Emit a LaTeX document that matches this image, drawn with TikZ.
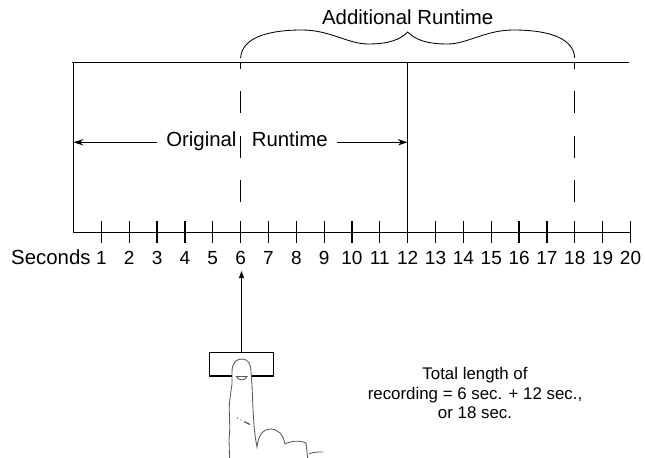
\documentclass[tikz,border=0pt]{standalone}
\usepackage{fontspec}
\setmainfont{Liberation Sans}
\usetikzlibrary{positioning,arrows.meta}

\begin{document}
\begin{tikzpicture}[x=0.025cm, y=-0.025cm, line width=0.9pt,
    lbl/.style={font=\fontsize{14.5}{17}\selectfont, inner sep=0pt},
    num/.style={font=\fontsize{13.5}{15}\selectfont, inner sep=0pt},
    cut/.style={dash pattern=on 15.6pt off 16pt, dash phase=11pt},
    skin/.style={draw=black!65, line width=0.6pt}]
    \useasboundingbox (0,0) rectangle (646,458);

    % Frame and time axis
    \coordinate (tl) at (72,62.3);
    \coordinate (tr) at (629,62.3);
    \coordinate (t0) at (73.5,232.7);
    \coordinate (ax) at (631,232.7);
    \draw (tl) -- (tr);
    \draw (t0 |- tl) -- (t0) -- (ax);

    % Ticks and seconds
    \foreach \n in {1,...,20} {
        \coordinate (t\n) at ({73.5+27.85*\n},232.7);
        \draw (t\n) ++(0,-11.5) -- ++(0,22);
        \node[num, anchor=base] (l\n) at ({73.5+27.85*\n},265) {\n};
    }
    \node[lbl, anchor=base east] (sec) at ([xshift=-3pt]l1.base west) {Seconds};

    % Runtime markers
    \draw (t12 |- tl) -- (t12);
    \draw[cut] (t6 |- tl) -- (t6);
    \draw[cut] (t18 |- tl) -- (t18);

    % Original runtime
    \node[lbl, anchor=base, inner xsep=6pt] (orig) at (247,147) {Original\hspace{0.75em}Runtime};
    \coordinate (ol) at (73.5,142.3);
    \coordinate (or) at (t12 |- ol);
    \draw[-{Stealth[length=7pt,width=4.5pt]}] (orig.west |- ol) -- (ol);
    \draw[-{Stealth[length=7pt,width=4.5pt]}] (orig.east |- ol) -- (or);

    % Additional runtime
    \node[lbl, anchor=base] (add) at (407.7,25) {Additional Runtime};
    \draw[line width=0.6pt] (240.6,58) .. controls (242,36) and (272,30) .. (302,30)
        .. controls (330,30) and (348,44) .. (368,44)
        .. controls (388,44) and (400,40) .. (407.7,32)
        .. controls (415.4,40) and (427.4,44) .. (447.4,44)
        .. controls (467.4,44) and (485.4,30) .. (513.4,30)
        .. controls (543.4,30) and (573.4,36) .. (574.8,58);

    % Button and finger
    \node[draw, minimum width=45.5pt, minimum height=16.6pt, inner sep=0pt] (btn) at (241.5,364.4) {};
    \coordinate (press) at (241.5,271);
    \draw[-{Triangle[length=5pt,width=3.5pt]}, line width=0.7pt] (btn.north) -- (press);
    \draw[skin, fill=white] (230,470) -- (229,440) .. controls (231,425) and (228,410) .. (230,398)
        -- (232,384) -- (232,372) .. controls (232,363) and (236,359) .. (242,359)
        .. controls (248,359) and (251,364) .. (251,372) -- (252,385)
        .. controls (253,405) and (253,428) .. (257,447)
        .. controls (258,436) and (263,429) .. (270,429)
        .. controls (278,429) and (283,434) .. (285,444)
        .. controls (290,441) and (300,440) .. (306,443) -- (309,470);
    \draw[skin] (309,454) .. controls (313,452) and (318,452) .. (323,452);
    \draw[skin] (236.5,376.5) .. controls (237.5,381) and (246,381) .. (247,376.5) -- cycle;
    \draw[skin, line width=0.8pt, dash pattern=on 0.6pt off 2.2pt on 0.6pt off 2.2pt on 5pt off 9pt] (237,418) -- (250,424.5);

    % Note
    \node[align=center, font=\fontsize{12}{14.2}\selectfont, inner sep=0pt] (note) at (475,393)
        {Total length of\\recording = 6 sec. + 12 sec.,\\or 18 sec.};
\end{tikzpicture}
\end{document}
